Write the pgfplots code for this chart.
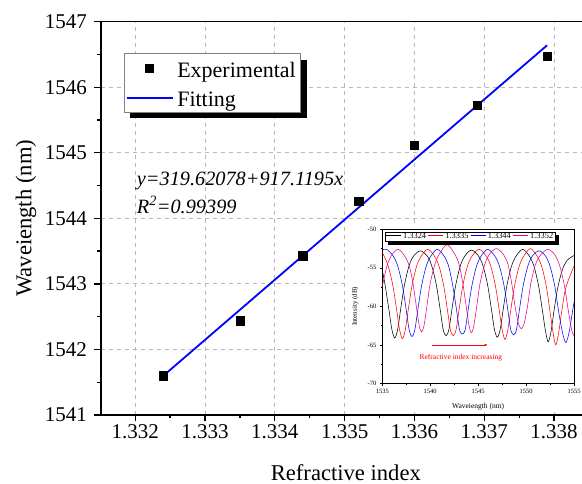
\documentclass[border=0pt]{standalone}
\usepackage{fontspec}
\setmainfont{Liberation Serif}
\usepackage{pgfplots}
\pgfplotsset{compat=1.18}
\usetikzlibrary{arrows.meta}
\definecolor{fitblue}{RGB}{0,0,255}
\pgfplotsset{
 marklegend/.style={legend image code/.code={\draw[mark repeat=2,mark phase=2,##1] plot coordinates {(0pt,0pt) (23pt,0pt) (46pt,0pt)};}},
 linelegend/.style={legend image code/.code={\draw[##1] (0pt,0pt) -- (46pt,0pt);}},
 shortlegend/.style={legend image code/.code={\draw[##1] (0pt,1.2pt) -- (15pt,1.2pt);}},
}
\begin{document}
\begin{tikzpicture}
\useasboundingbox (-101pt,-69pt) rectangle (481pt,415pt);
\begin{axis}[
 at={(0pt,0pt)}, anchor=south west,
 scale only axis, width=481pt, height=393.3pt,
 xmin=1.33151, xmax=1.3384, ymin=1541, ymax=1547,
 axis x line*=box, axis y line*=left,
 xtick={1.332,1.333,1.334,1.335,1.336,1.337,1.338},
 xticklabels={1.332,1.333,1.334,1.335,1.336,1.337,1.338},
 ytick={1541,1542,1543,1544,1545,1546,1547},
 yticklabels={1541,1542,1543,1544,1545,1546,1547},
 minor x tick num=1, minor y tick num=1,
 xtick pos=bottom, ytick pos=left,
 tick align=outside,
 major tick length=6.5pt, minor tick length=3.5pt,
 tick style={black, line width=1.3pt},
 axis line style={line width=1.6pt, black},
 grid=major,
 major grid style={gray!55, dash pattern=on 4pt off 4pt, line width=0.8pt},
 tick label style={font=\fontsize{21}{24}\selectfont},
 yticklabel style={xshift=-4pt},
 /pgf/number format/assume math mode=true,
 every axis y label/.style={at={(axis description cs:-0.156,0.5)}, rotate=90, anchor=center, font=\fontsize{22.6}{26}\selectfont},
 every axis x label/.style={at={(axis description cs:0.509,-0.1665)}, anchor=base, inner sep=0pt, font=\fontsize{22.6}{26}\selectfont},
 xlabel={Refractive index},
 ylabel={Waveiength (nm)},
 legend style={name=mainleg, at={(rel axis cs:0.0484,0.9197)}, anchor=north west, draw=gray, line width=0.6pt, fill=white,
   font=\fontsize{22}{24}\selectfont, inner xsep=1.2pt, inner ysep=0pt,
   nodes={inner xsep=3.7pt, inner ysep=0pt, text height=24pt, text depth=5.4pt}},
 legend cell align=left,
]
\addplot[only marks, mark=square*, mark size=4.1pt, black, marklegend]
 coordinates {(1.3324,1541.60) (1.3335,1542.44) (1.3344,1543.43) (1.3352,1544.26) (1.3360,1545.11) (1.3369,1545.73) (1.3379,1546.47)};
\addlegendentry{Experimental}
\addplot[fitblue, line width=1.8pt, no marks, linelegend]
 coordinates {(1.3324,1541.596) (1.3379,1546.640)};
\addlegendentry{Fitting}
\node[anchor=base west, inner sep=0pt, font=\fontsize{20.3}{22}\selectfont\itshape] at (rel axis cs:0.0742,0.5823) {y=319.62078+917.1195x};
\node[anchor=base west, inner sep=0pt, font=\fontsize{20.3}{22}\selectfont\itshape] at (rel axis cs:0.0742,0.5136) {R\textsuperscript{2}=0.99399};
\end{axis}
\fill[black] ([xshift=5.7pt]mainleg.south west) rectangle ([xshift=6pt,yshift=-5pt]mainleg.south east);
\fill[black] ([yshift=-6.7pt]mainleg.north east) rectangle ([xshift=6pt]mainleg.south east);
\fill[white] (248pt,3pt) rectangle (481pt,190pt);
\begin{axis}[
 at={(281.3pt,31.5pt)}, anchor=south west,
 scale only axis, width=191.7pt, height=154.2pt,
 xmin=1535, xmax=1555, ymin=-70, ymax=-50,
 xtick={1535,1540,1545,1550,1555},
 xticklabels={1535,1540,1545,1550,1555},
 ytick={-70,-65,-60,-55,-50},
 yticklabels={-70,-65,-60,-55,-50},
 minor x tick num=1, minor y tick num=1,
 tick pos=left, tick align=outside,
 major tick length=2.5pt, minor tick length=1.5pt,
 tick style={black, line width=0.4pt},
 axis line style={line width=0.6pt, black},
 axis background/.style={fill=white},
 tick label style={font=\fontsize{6.5}{7.5}\selectfont},
 /pgf/number format/assume math mode=true,
 every axis y label/.style={at={(axis description cs:-0.142,0.5)}, rotate=90, anchor=center, font=\fontsize{7}{8}\selectfont},
 every axis x label/.style={at={(axis description cs:0.5,-0.152)}, anchor=center, font=\fontsize{7.5}{8.5}\selectfont},
 xlabel={Waveiength (nm)},
 ylabel={Intensity (dB)},
 legend columns=4,
 legend style={name=insetleg, at={(rel axis cs:0.014,0.982)}, anchor=north west, draw=black, line width=0.4pt, fill=white,
   font=\fontsize{8.4}{9}\selectfont, inner xsep=0.5pt, inner ysep=0pt,
   nodes={inner xsep=1.85pt, inner ysep=1pt},
   /tikz/every even column/.append style={column sep=0pt}},
 shortlegend,
 every axis plot/.append style={line width=0.55pt, smooth, no marks},
]
\addplot[black] coordinates {
(1535.0,-55.3) (1535.3,-57.3) (1535.7,-60.5) (1536.0,-63.0) (1536.3,-64.1) (1536.6,-63.0) (1536.9,-60.5)
(1537.3,-57.3) (1537.8,-54.7) (1538.3,-53.4) (1538.97,-52.8) (1539.65,-53.4) (1540.15,-54.7) (1540.65,-57.3)
(1541.05,-60.5) (1541.35,-63.0) (1541.65,-63.8) (1541.95,-63.0) (1542.25,-60.5) (1542.65,-57.3) (1543.15,-54.7)
(1543.65,-53.4) (1544.3,-52.7) (1545.0,-53.4) (1545.5,-54.7) (1546.0,-57.3) (1546.4,-60.5) (1546.7,-63.0)
(1547.0,-64.0) (1547.3,-63.0) (1547.6,-60.5) (1548.0,-57.3) (1548.5,-54.7) (1549.0,-53.4) (1549.65,-52.6)
(1550.3,-53.4) (1550.8,-54.7) (1551.3,-57.3) (1551.7,-60.5) (1552.0,-63.0) (1552.3,-64.6) (1552.6,-63.3)
(1552.9,-60.7) (1553.3,-57.6) (1553.8,-55.2) (1554.3,-54.0) (1555.0,-53.4)};
\addlegendentry{1.3324}
\addplot[red] coordinates {
(1535.0,-53.0) (1535.6,-54.7) (1536.1,-57.3) (1536.5,-60.5) (1536.8,-63.0) (1537.1,-64.2) (1537.4,-63.0)
(1537.7,-60.5) (1538.1,-57.3) (1538.6,-54.7) (1539.1,-53.4) (1539.75,-52.6) (1540.4,-53.4) (1540.9,-54.7)
(1541.4,-57.3) (1541.8,-60.5) (1542.1,-63.0) (1542.4,-63.8) (1542.7,-63.0) (1543.0,-60.5) (1543.4,-57.3)
(1543.9,-54.7) (1544.4,-53.4) (1545.1,-52.6) (1545.8,-53.4) (1546.3,-54.7) (1546.8,-57.3) (1547.2,-60.5)
(1547.5,-63.0) (1547.8,-64.3) (1548.1,-63.0) (1548.4,-60.5) (1548.8,-57.3) (1549.3,-54.7) (1549.8,-53.4)
(1550.45,-52.5) (1551.1,-53.4) (1551.6,-54.7) (1552.1,-57.3) (1552.5,-60.7) (1552.8,-63.3) (1553.1,-65.0)
(1553.4,-63.4) (1553.7,-60.8) (1554.1,-57.8) (1554.6,-56.0) (1555.0,-54.8)};
\addlegendentry{1.3335}
\addplot[blue] coordinates {
(1535.0,-52.7) (1535.45,-52.6) (1536.1,-53.4) (1536.6,-54.7) (1537.1,-57.3) (1537.5,-60.5) (1537.8,-63.0)
(1538.1,-63.9) (1538.4,-63.0) (1538.7,-60.5) (1539.1,-57.3) (1539.6,-54.7) (1540.1,-53.4) (1540.75,-52.6)
(1541.4,-53.4) (1541.9,-54.7) (1542.35,-57.3) (1542.75,-60.5) (1543.05,-63.0) (1543.35,-63.6) (1543.65,-63.0)
(1543.95,-60.5) (1544.35,-57.3) (1544.85,-54.7) (1545.35,-53.4) (1546.0,-52.6) (1546.7,-53.4) (1547.2,-54.7)
(1547.7,-57.3) (1548.1,-60.5) (1548.4,-63.0) (1548.7,-63.7) (1549.0,-63.0) (1549.3,-60.5) (1549.7,-57.3)
(1550.2,-54.7) (1550.7,-53.4) (1551.35,-52.8) (1552.0,-53.4) (1552.5,-54.8) (1553.0,-57.4) (1553.4,-60.7)
(1553.8,-63.4) (1554.15,-64.7) (1554.5,-63.3) (1554.8,-61.0) (1555.0,-59.5)};
\addlegendentry{1.3344}
\addplot[magenta] coordinates {
(1535.0,-57.4) (1535.5,-54.7) (1536.0,-53.3) (1536.65,-52.6) (1537.3,-53.4) (1537.8,-54.7) (1538.2,-57.0)
(1538.55,-60.0) (1538.85,-62.5) (1539.1,-63.3) (1539.35,-62.5) (1539.65,-60.0) (1540.0,-57.0) (1540.5,-54.5)
(1541.0,-53.1) (1541.75,-52.0) (1542.5,-53.1) (1543.0,-54.5) (1543.4,-57.0) (1543.75,-60.0) (1544.05,-62.5)
(1544.3,-63.4) (1544.55,-62.5) (1544.85,-60.0) (1545.2,-57.0) (1545.7,-54.5) (1546.2,-53.2) (1546.9,-52.5)
(1547.6,-53.2) (1548.1,-54.5) (1548.5,-57.0) (1548.85,-60.0) (1549.2,-62.2) (1549.5,-62.9) (1549.8,-62.2)
(1550.15,-60.0) (1550.5,-57.0) (1551.0,-54.5) (1551.6,-53.2) (1552.3,-52.6) (1553.0,-53.3) (1553.5,-54.7)
(1554.0,-57.3) (1554.4,-60.5) (1554.75,-63.0) (1555.0,-63.8)};
\addlegendentry{1.3352}
\addplot[red, line width=0.5pt, -{Latex[length=3pt,width=2.5pt]}, sharp plot, forget plot] coordinates {(1540.2,-65) (1546,-65)};
\node[red, font=\fontsize{7.5}{8.5}\selectfont] at (axis cs:1543.2,-66.6) {Refractive index increasing};
\end{axis}
\fill[black] ([xshift=3pt]insetleg.south west) rectangle ([xshift=3pt,yshift=-3pt]insetleg.south east);
\fill[black] ([yshift=-3pt]insetleg.north east) rectangle ([xshift=3pt]insetleg.south east);
\end{tikzpicture}
\end{document}
